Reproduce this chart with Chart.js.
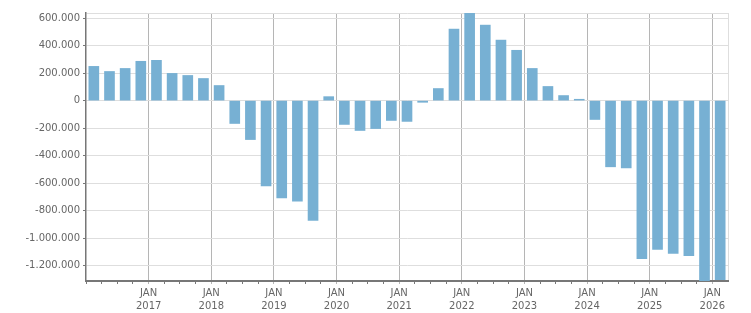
<!DOCTYPE html>
<html lang="en">
<head>
    <meta charset="UTF-8">
    <title>Quarterly balance</title>
    <style>
        body {
            margin: 0;
            background: #fff;
        }

        #wrap {
            width: 751px;
            height: 313px;
            position: relative;
        }
    </style>
    <script src="https://cdn.jsdelivr.net/npm/chart.js"></script>
</head>
<body>
    <div id="wrap">
        <canvas id="chart"></canvas>
    </div>
    <script>
        // one bar per quarter, Q1 2016 .. Q1 2026
        const quarters = [
            '2016 Q1', '2016 Q2', '2016 Q3', '2016 Q4',
            '2017 Q1', '2017 Q2', '2017 Q3', '2017 Q4',
            '2018 Q1', '2018 Q2', '2018 Q3', '2018 Q4',
            '2019 Q1', '2019 Q2', '2019 Q3', '2019 Q4',
            '2020 Q1', '2020 Q2', '2020 Q3', '2020 Q4',
            '2021 Q1', '2021 Q2', '2021 Q3', '2021 Q4',
            '2022 Q1', '2022 Q2', '2022 Q3', '2022 Q4',
            '2023 Q1', '2023 Q2', '2023 Q3', '2023 Q4',
            '2024 Q1', '2024 Q2', '2024 Q3', '2024 Q4',
            '2025 Q1', '2025 Q2', '2025 Q3', '2025 Q4',
            '2026 Q1'
        ];
        const values = [
            249000, 212000, 234000, 286000,
            293000, 198000, 183000, 161000,
            110000, -166000, -283000, -620000,
            -708000, -730000, -870000, 29000,
            -173000, -217000, -203000, -144000,
            -151000, -12000, 88000, 520000,
            637000, 549000, 440000, 366000,
            234000, 103000, 37000, 10000,
            -137000, -481000, -489000, -1148000,
            -1082000, -1111000, -1126000, -1311000,
            -1302000
        ];
        const monthLabel = 'JAN';
        const yearLabels = ['2017', '2018', '2019', '2020', '2021', '2022', '2023', '2024', '2025', '2026'];
        const yStep = 200000;

        const textColor = '#666';
        const axisColor = '#777';
        const gridColor = '#dedede';
        const yearGridColor = '#b5b5b5';
        const none = 'rgba(0,0,0,0)';

        function fmt(v) {
            const s = String(Math.abs(v)).replace(/\B(?=(\d{3})+(?!\d))/g, '.');
            return v < 0 ? '-' + s : s;
        }

        // bars sit in the middle of their quarter, the axis counts quarters from Jan 2016
        const points = quarters.map((q, i) => ({ x: i + 0.5, y: values[i] }));
        const nQ = quarters.length;
        const yMin = Math.min(...values);
        const yMax = Math.max(...values);

        const isYear = v => v > 0 && v < nQ && v % 4 === 0;
        const onStep = v => Math.abs(v % yStep) < 1;

        new Chart(document.getElementById('chart'), {
            type: 'bar',
            data: {
                datasets: [{
                    data: points,
                    backgroundColor: '#77b0d3',
                    borderWidth: 0,
                    barThickness: 10
                }]
            },
            options: {
                responsive: true,
                maintainAspectRatio: false,
                animation: false,
                layout: { padding: { top: 13, right: 23, left: 0, bottom: 0 } },
                plugins: { legend: { display: false }, tooltip: { enabled: false } },
                scales: {
                    x: {
                        type: 'linear',
                        min: 0,
                        max: nQ,
                        offset: false,
                        afterFit: s => { s.height = 32; },
                        grid: {
                            offset: false,
                            tickLength: 3,
                            color: c => isYear(c.tick.value) ? yearGridColor : (c.tick.value === nQ ? gridColor : none),
                            tickColor: c => isYear(c.tick.value) ? yearGridColor : (c.tick.value === nQ ? none : axisColor)
                        },
                        border: { color: axisColor, width: 2 },
                        ticks: {
                            stepSize: 1,
                            autoSkip: false,
                            maxTicksLimit: 100,
                            maxRotation: 0,
                            padding: 3,
                            color: textColor,
                            font: { family: 'DejaVu Sans', size: 10, lineHeight: 1.3 },
                            callback: v => isYear(v) ? [monthLabel, yearLabels[v / 4 - 1]] : ''
                        }
                    },
                    y: {
                        min: yMin,
                        max: yMax,
                        afterFit: s => { s.width = 86; },
                        // round steps only, plus the top edge for the frame line
                        afterBuildTicks: s => {
                            const t = [];
                            for (let v = Math.ceil(s.min / yStep) * yStep; v <= s.max; v += yStep) t.push({ value: v });
                            t.push({ value: s.max });
                            s.ticks = t;
                        },
                        grid: {
                            tickLength: 3,
                            color: gridColor,
                            tickColor: c => onStep(c.tick.value) ? axisColor : none
                        },
                        border: { color: axisColor, width: 1.5 },
                        ticks: {
                            autoSkip: false,
                            padding: 3,
                            color: textColor,
                            font: { family: 'DejaVu Sans', size: 10 },
                            callback: v => onStep(v) ? fmt(v) : ''
                        }
                    }
                }
            }
        });
    </script>
</body>
</html>
